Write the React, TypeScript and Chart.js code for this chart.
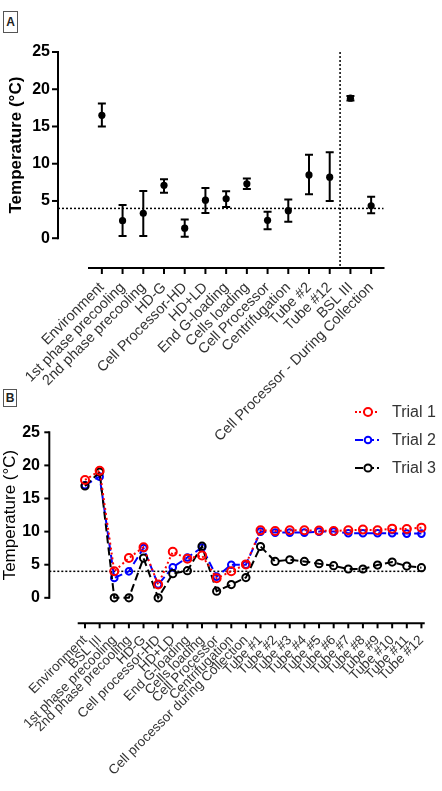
import React, { useEffect, useRef } from 'react';
import { Chart, registerables } from 'chart.js';

Chart.register(...registerables);

// ---------- Panel A data ----------
const categoriesA = [
  'Environment',
  '1st phase precooling',
  '2nd phase precooling',
  'HD-G',
  'Cell Processor-HD',
  'HD+LD',
  'End G-loading',
  'Cells loading',
  'Cell Processor',
  'Centrifugation',
  'Tube #2',
  'Tube #12',
  'BSL III',
  'Cell Processor - During Collection',
];
const meanA = [16.5, 2.35, 3.35, 7.1, 1.35, 5.1, 5.3, 7.3, 2.4, 3.7, 8.5, 8.2, 18.8, 4.35];
const lowA = [15.0, 0.3, 0.3, 6.1, 0.2, 3.4, 4.2, 6.6, 1.2, 2.2, 5.9, 5.0, 18.5, 3.35];
const highA = [18.1, 4.45, 6.35, 7.9, 2.5, 6.75, 6.3, 8.0, 3.55, 5.2, 11.2, 11.55, 19.1, 5.55];
const dividerAfterA = 11; // vertical dotted divider between 'Tube #12' and 'BSL III'

// ---------- Panel B data ----------
const categoriesB = [
  'Environment',
  'BSL III',
  '1st phase precooling',
  '2nd phase precooling',
  'HD-G',
  'Cell processor-HD',
  'HD+LD',
  'End G-loading',
  'Cells loading',
  'Cell Processor',
  'Centrifugation',
  'Cell processor during Collection',
  'Tube #1',
  'Tube #2',
  'Tube #3',
  'Tube #4',
  'Tube #5',
  'Tube #6',
  'Tube #7',
  'Tube #8',
  'Tube #9',
  'Tube #10',
  'Tube #11',
  'Tube #12',
];
const trial1 = [17.8, 19.2, 4.0, 6.0, 7.65, 2.0, 6.95, 5.9, 6.4, 2.95, 4.0, 5.05, 10.2, 10.1, 10.2, 10.2, 10.15, 10.1, 10.2, 10.3, 10.2, 10.45, 10.4, 10.6];
const trial2 = [17.0, 18.3, 3.0, 4.0, 7.5, 2.0, 4.6, 6.1, 7.6, 3.2, 5.0, 5.0, 10.0, 9.85, 9.85, 9.85, 10.0, 10.0, 9.75, 9.75, 9.75, 9.75, 9.7, 9.7];
const trial3 = [16.9, 19.0, 0, 0, 6.0, 0, 3.65, 4.1, 7.8, 1.0, 2.0, 3.05, 7.75, 5.5, 5.75, 5.5, 5.15, 4.85, 4.35, 4.35, 4.95, 5.4, 4.8, 4.55];
const trialNames = ['Trial 1', 'Trial 2', 'Trial 3'];

// ---------- shared ----------
const yTickValues = [0, 5, 10, 15, 20, 25];
const threshold = 4;
const yTitle = 'Temperature (°C)';

const FONT = '"Liberation Sans", Arial, Helvetica, sans-serif';

type AxesCfg = {
  yAxisGap: number;
  tickLen: number;
  axisWidth: number;
  xExtendLeft: number;
  xExtendRight: number;
  thresholdRightExtend: number;
  titleX: number;
  titleFont: string;
  divider?: number;
  errLow?: number[];
  errHigh?: number[];
  legend?: { names: string[]; colors: string[]; dashes: number[][]; radii: number[] };
};

function makePlugin(cfg: AxesCfg) {
  return {
    id: 'prismAxes',
    beforeDatasetsDraw(chart: any) {
      const { ctx, chartArea, scales } = chart;
      const x = scales.x;
      const y = scales.y;
      const axisX = chartArea.left - cfg.yAxisGap;
      const yTop = y.getPixelForValue(yTickValues[yTickValues.length - 1]);
      const yZero = y.getPixelForValue(yTickValues[0]);
      ctx.save();
      ctx.strokeStyle = '#000';
      ctx.lineWidth = cfg.axisWidth;
      ctx.lineCap = 'butt';
      // y axis
      ctx.beginPath();
      ctx.moveTo(axisX, yZero + cfg.axisWidth / 2);
      ctx.lineTo(axisX, yTop - cfg.axisWidth / 2);
      ctx.stroke();
      yTickValues.forEach((v) => {
        const py = y.getPixelForValue(v);
        ctx.beginPath();
        ctx.moveTo(axisX - cfg.tickLen, py);
        ctx.lineTo(axisX, py);
        ctx.stroke();
      });
      // x axis
      const by = chartArea.bottom;
      ctx.beginPath();
      ctx.moveTo(chartArea.left - cfg.xExtendLeft, by);
      ctx.lineTo(chartArea.right + cfg.xExtendRight, by);
      ctx.stroke();
      for (let i = 0; i < x.ticks.length; i++) {
        const px = x.getPixelForTick(i);
        ctx.beginPath();
        ctx.moveTo(px, by);
        ctx.lineTo(px, by + cfg.tickLen);
        ctx.stroke();
      }
      // threshold dotted line
      ctx.setLineDash([2, 2]);
      ctx.lineWidth = 1.5;
      const ty = y.getPixelForValue(threshold);
      ctx.beginPath();
      ctx.moveTo(axisX, ty);
      ctx.lineTo(chartArea.right + cfg.thresholdRightExtend, ty);
      ctx.stroke();
      if (cfg.divider !== undefined) {
        const dx = (x.getPixelForValue(cfg.divider) + x.getPixelForValue(cfg.divider + 1)) / 2;
        ctx.beginPath();
        ctx.moveTo(dx, yTop);
        ctx.lineTo(dx, by);
        ctx.stroke();
      }
      ctx.setLineDash([]);
      // error bars
      if (cfg.errLow && cfg.errHigh) {
        ctx.lineWidth = 2;
        for (let i = 0; i < cfg.errLow.length; i++) {
          const px = x.getPixelForValue(i);
          const pl = y.getPixelForValue(cfg.errLow[i]);
          const ph = y.getPixelForValue(cfg.errHigh[i]);
          ctx.beginPath();
          ctx.moveTo(px, pl);
          ctx.lineTo(px, ph);
          ctx.moveTo(px - 4, pl);
          ctx.lineTo(px + 4, pl);
          ctx.moveTo(px - 4, ph);
          ctx.lineTo(px + 4, ph);
          ctx.stroke();
        }
      }
      // y title
      ctx.fillStyle = '#000';
      ctx.font = cfg.titleFont;
      ctx.textAlign = 'center';
      ctx.textBaseline = 'middle';
      ctx.translate(cfg.titleX, (yTop + yZero) / 2);
      ctx.rotate(-Math.PI / 2);
      ctx.fillText(yTitle, 0, 0);
      ctx.restore();
    },
    afterDatasetsDraw(chart: any) {
      const lg = cfg.legend;
      if (!lg) return;
      const { ctx } = chart;
      ctx.save();
      lg.names.forEach((name, i) => {
        const cy = 27 + i * 28;
        const x0 = chart.width - 87;
        const x1 = chart.width - 63;
        const cx = chart.width - 74;
        ctx.strokeStyle = lg.colors[i];
        ctx.lineWidth = 2;
        ctx.setLineDash(lg.dashes[i]);
        ctx.beginPath();
        ctx.moveTo(x0, cy);
        ctx.lineTo(x1, cy);
        ctx.stroke();
        ctx.setLineDash([]);
        ctx.fillStyle = '#fff';
        ctx.beginPath();
        ctx.arc(cx, cy, lg.radii[i], 0, Math.PI * 2);
        ctx.fill();
        ctx.stroke();
        ctx.fillStyle = '#333';
        ctx.font = `16px ${FONT}`;
        ctx.textAlign = 'left';
        ctx.textBaseline = 'middle';
        ctx.fillText(name, chart.width - 50, cy + 1);
      });
      ctx.restore();
    },
  };
}

function PanelA() {
  const ref = useRef<HTMLCanvasElement>(null);
  useEffect(() => {
    const chart = new Chart(ref.current as HTMLCanvasElement, {
      type: 'line',
      data: {
        labels: categoriesA,
        datasets: [
          {
            data: meanA,
            showLine: false,
            pointRadius: 3.6,
            pointBackgroundColor: '#000',
            pointBorderColor: '#000',
            pointBorderWidth: 0,
          },
        ],
      },
      options: {
        responsive: false,
        animation: false,
        layout: { padding: { left: 0, top: 52, right: 60.5, bottom: 0 } },
        plugins: { legend: { display: false }, tooltip: { enabled: false } },
        scales: {
          x: {
            type: 'category',
            offset: true,
            grid: { display: false, drawTicks: false },
            border: { display: false },
            ticks: {
              autoSkip: false,
              maxRotation: 45,
              minRotation: 45,
              padding: 11,
              color: '#333',
              font: { family: FONT, size: 14.5 },
            },
            afterFit: (s: any) => {
              s.height = 182;
            },
          },
          y: {
            min: -4,
            max: 25,
            grid: { display: false, drawTicks: false },
            border: { display: false },
            afterBuildTicks: (s: any) => {
              s.ticks = yTickValues.map((v) => ({ value: v }));
            },
            ticks: {
              padding: 41.5,
              color: '#000',
              font: { family: FONT, size: 16, weight: 'bold' },
            },
            afterFit: (s: any) => {
              s.width = 91.5;
            },
          },
        },
      } as any,
      plugins: [
        makePlugin({
          yAxisGap: 33.5,
          tickLen: 6,
          axisWidth: 2,
          xExtendLeft: 3.5,
          xExtendRight: 3,
          thresholdRightExtend: 2,
          titleX: 16,
          titleFont: `bold 17px ${FONT}`,
          divider: dividerAfterA,
          errLow: lowA,
          errHigh: highA,
        }),
      ],
    });
    return () => chart.destroy();
  }, []);
  return (
    <canvas
      ref={ref}
      width={442}
      height={450}
      style={{ position: 'absolute', left: 0, top: 0, width: 442, height: 450 }}
    />
  );
}

function PanelB() {
  const ref = useRef<HTMLCanvasElement>(null);
  useEffect(() => {
    const colors = ['#ff0000', '#0000ff', '#000000'];
    const dashes = [[2, 3], [8, 4], [8, 4]];
    const radii = [4, 3.3, 3.6];
    const series = [trial1, trial2, trial3];
    const orders = [0, 2, 1];
    const chart = new Chart(ref.current as HTMLCanvasElement, {
      type: 'line',
      data: {
        labels: categoriesB,
        datasets: series.map((d, i) => ({
          label: trialNames[i],
          data: d,
          order: orders[i],
          borderColor: colors[i],
          borderWidth: 2,
          borderDash: dashes[i],
          tension: 0,
          fill: false,
          pointRadius: radii[i],
          pointBorderWidth: 2,
          pointBorderColor: colors[i],
          pointBackgroundColor: 'rgba(0,0,0,0)',
        })),
      },
      options: {
        responsive: false,
        animation: false,
        layout: { padding: { left: 0, top: 33.3, right: 1.1, bottom: 0 } },
        plugins: { legend: { display: false }, tooltip: { enabled: false } },
        scales: {
          x: {
            type: 'category',
            offset: true,
            grid: { display: false, drawTicks: false },
            border: { display: false },
            ticks: {
              autoSkip: false,
              maxRotation: 45,
              minRotation: 45,
              padding: 9,
              color: '#333',
              font: { family: FONT, size: 13.5 },
            },
            afterFit: (s: any) => {
              s.height = 167.7;
            },
          },
          y: {
            min: -3.85,
            max: 25,
            grid: { display: false, drawTicks: false },
            border: { display: false },
            afterBuildTicks: (s: any) => {
              s.ticks = yTickValues.map((v) => ({ value: v }));
            },
            ticks: {
              padding: 37.7,
              color: '#000',
              font: { family: FONT, size: 16, weight: 'bold' },
            },
            afterFit: (s: any) => {
              s.width = 77.7;
            },
          },
        },
      } as any,
      plugins: [
        makePlugin({
          yAxisGap: 28.4,
          tickLen: 5,
          axisWidth: 2,
          xExtendLeft: 0,
          xExtendRight: -4,
          thresholdRightExtend: -4,
          titleX: 10,
          titleFont: `17px ${FONT}`,
          legend: { names: trialNames, colors, dashes: [[2, 2], [8, 3], [8, 3]], radii },
        }),
      ],
    });
    return () => chart.destroy();
  }, []);
  return (
    <canvas
      ref={ref}
      width={442}
      height={406}
      style={{ position: 'absolute', left: 0, top: 385, width: 442, height: 406 }}
    />
  );
}

const boxStyle: React.CSSProperties = {
  position: 'absolute',
  left: 3,
  border: '1px solid #555',
  fontFamily: FONT,
  fontWeight: 'bold',
  fontSize: 12,
  color: '#222',
  textAlign: 'center',
  boxSizing: 'border-box',
  background: '#fff',
};

export default function App() {
  return (
    <div
      style={{
        position: 'absolute',
        left: 0,
        top: 0,
        width: 442,
        height: 791,
        background: '#fff',
        overflow: 'hidden',
      }}
    >
      <PanelA />
      <PanelB />
      <div style={{ ...boxStyle, top: 11, width: 15, height: 22, lineHeight: '20px' }}>A</div>
      <div style={{ ...boxStyle, top: 389, width: 14, height: 18, lineHeight: '16px' }}>B</div>
    </div>
  );
}
